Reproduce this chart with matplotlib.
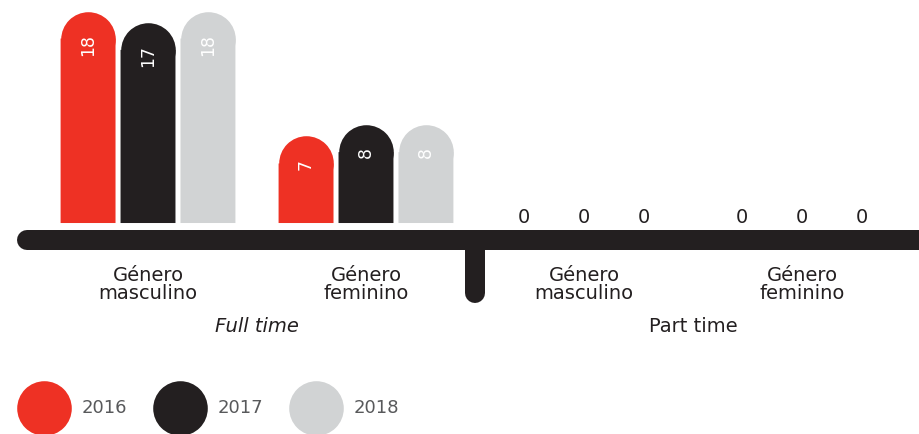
import matplotlib.pyplot as plt
import numpy as np

# data
categories = ['Género\nmasculino', 'Género\nfeminino', 'Género\nmasculino', 'Género\nfeminino']
sections = ['Full time', 'Part time']
years = ['2016', '2017', '2018']
v2016 = [18, 7, 0, 0]
v2017 = [17, 8, 0, 0]
v2018 = [18, 8, 0, 0]

colors = ['#EE3124', '#231F20', '#D1D3D4']
dark = '#231F20'

fig = plt.figure(figsize=(9.19, 4.34), dpi=100)
ax = fig.add_axes([0, 0, 1, 1])
ax.set_xlim(-0.679, 3.537)
ax.set_ylim(-18.57, 19.63)
ax.axis('off')

bar_w = 0.252
offsets = [-0.275, 0, 0.275]
cap_r = 2.42      # radius of the round top, in y units
extra = 0.66      # extra height of the rounded cap
ms = 39.3         # marker diameter in points (~ bar width)

x = np.arange(len(categories))
for i, vals in enumerate([v2016, v2017, v2018]):
    for g, v in enumerate(vals):
        xi = x[g] + offsets[i]
        if v > 0:
            top = v + extra
            mid = top - cap_r
            ax.bar(xi, mid, width=bar_w, color=colors[i], linewidth=0, snap=False)
            ax.plot(xi, mid, 'o', ms=ms, color=colors[i], mec='none', snap=False)
            ax.text(xi, top - 2.0, str(v), rotation=90, ha='center', va='top',
                    color='white', fontsize=12.5)
        else:
            ax.text(xi, 0, str(v), ha='center', va='baseline', fontsize=14, color=dark)

# base line and divider
ax.plot([-0.555, 3.8], [-1.5, -1.5], lw=14.4, color=dark, solid_capstyle='round')
ax.plot([1.5, 1.5], [-1.5, -6.16], lw=14.4, color=dark, solid_capstyle='round')

for g, cat in enumerate(categories):
    ax.text(x[g], -3.79, cat, ha='center', va='top', fontsize=14, color=dark,
            linespacing=0.95)

ax.text(0.5, -9.15, sections[0], ha='center', va='center', fontsize=14,
        color=dark, style='italic')
ax.text(2.5, -9.15, sections[1], ha='center', va='center', fontsize=14, color=dark)

# legend
for i, yr in enumerate(years):
    lx = -0.477 + i * 0.624
    ax.plot(lx, -16.29, 'o', ms=ms, color=colors[i], mec='none', clip_on=False)
    ax.text(lx + 0.174, -16.29, yr, ha='left', va='center', fontsize=13,
            color='#58595B')

fig.savefig('out.png', dpi=100)
